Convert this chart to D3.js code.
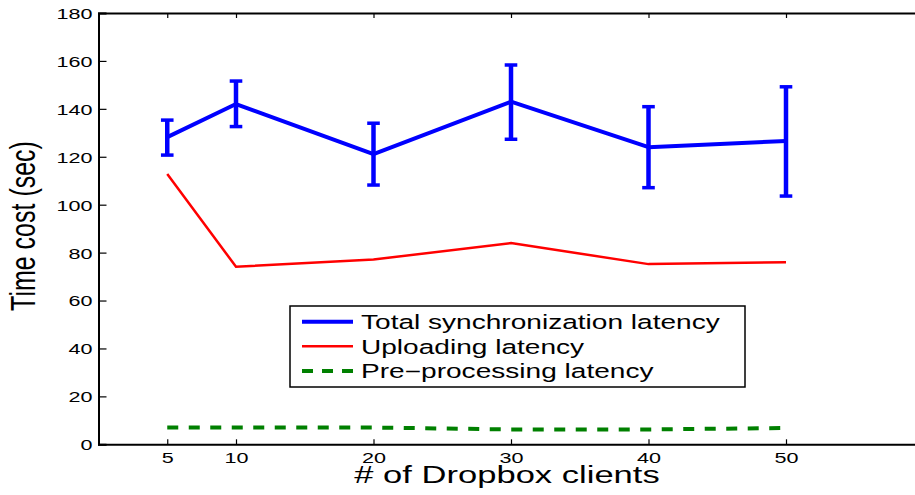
<!DOCTYPE html>
<html>
<head>
<meta charset="utf-8">
<script src="https://cdn.jsdelivr.net/npm/d3@7"></script>
<style>
  html, body { margin: 0; padding: 0; background: #fff; }
  svg { display: block; }
  text { font-family: "Liberation Sans", Arial, Helvetica, sans-serif; fill: #000; }
</style>
</head>
<body>
<svg id="chart" width="915" height="495"></svg>
<script>
// ---- data ----
const clients = [5, 10, 20, 30, 40, 50];
const totalLatency = [128.2, 142.0, 121.1, 143.0, 124.0, 126.6];
const totalErrLow  = [120.7, 132.6, 108.2, 127.3, 107.1, 103.6];
const totalErrHigh = [135.3, 151.6, 134.0, 158.3, 140.9, 149.2];
const uploadLatency = [112.8, 74.1, 77.1, 84.0, 75.2, 76.0];
const preprocLatency = [7.0, 7.0, 7.0, 6.2, 6.2, 6.8];
const xTicks = [5, 10, 20, 30, 40, 50];
const yTicks = [0, 20, 40, 60, 80, 100, 120, 140, 160, 180];
const legendLabels = ["Total synchronization latency", "Uploading latency", "Pre\u2212processing latency"];

// ---- layout ----
const SX = 1.44; // horizontal stretch of the original figure text
const svg = d3.select("#chart");
const mLeft = 98.5, mTop = 13, mBottom = 444.3, mRight = 923.5;

const x = d3.scaleLinear().domain([0, 60]).range([mLeft, mRight]);
const y = d3.scaleLinear().domain([0, 180]).range([mBottom, mTop]);

const g = svg.append("g");

// frame ticks on top and right (inward)
const topAxis = g.append("g").attr("transform", `translate(0,${mTop})`)
  .call(d3.axisTop(x).tickValues(xTicks).tickSize(-5).tickFormat(""));
const rightAxis = g.append("g").attr("transform", `translate(${mRight},0)`)
  .call(d3.axisRight(y).tickValues(yTicks).tickSize(-8).tickFormat(""));

// bottom axis
const xAxis = g.append("g").attr("transform", `translate(0,${mBottom})`)
  .call(d3.axisBottom(x).tickValues(xTicks).tickSize(-5).tickPadding(0).tickFormat(d3.format("d")));
// left axis
const yAxis = g.append("g").attr("transform", `translate(${mLeft},0)`)
  .call(d3.axisLeft(y).tickValues(yTicks).tickSize(-8).tickPadding(0).tickFormat(d3.format("d")));

[topAxis, rightAxis, xAxis, yAxis].forEach(a => {
  a.select(".domain").attr("stroke", "#000").attr("stroke-width", 2);
  a.selectAll(".tick line").attr("stroke", "#000").attr("stroke-width", 1.2);
  a.attr("font-family", null).attr("font-size", null);
});
xAxis.selectAll(".tick text")
  .attr("y", 18.5).attr("dy", null)
  .attr("font-size", "15px")
  .attr("transform", `scale(${SX},1)`);
yAxis.selectAll(".tick text")
  .attr("x", -6 / SX).attr("dy", "0.36em")
  .attr("font-size", "15px")
  .attr("transform", `scale(${SX},1)`);

// ---- series ----
const line = d3.line().x((d, i) => x(clients[i])).y(d => y(d));

// pre-processing (green dashed)
g.append("path").datum(preprocLatency)
  .attr("d", line).attr("fill", "none")
  .attr("stroke", "#008000").attr("stroke-width", 4)
  .attr("stroke-dasharray", "11,10.5");

// uploading (red)
g.append("path").datum(uploadLatency)
  .attr("d", line).attr("fill", "none")
  .attr("stroke", "#ff0000").attr("stroke-width", 2.5)
  .attr("stroke-linejoin", "miter");

// total (blue) with error bars
const eb = g.append("g").attr("stroke", "#0000ff").attr("fill", "none");
clients.forEach((c, i) => {
  const cx = x(c);
  eb.append("line").attr("x1", cx).attr("x2", cx)
    .attr("y1", y(totalErrLow[i])).attr("y2", y(totalErrHigh[i])).attr("stroke-width", 4.5);
  [totalErrLow[i], totalErrHigh[i]].forEach(v => {
    eb.append("line").attr("x1", cx - 6.3).attr("x2", cx + 6.3)
      .attr("y1", y(v)).attr("y2", y(v)).attr("stroke-width", 3.5);
  });
});
g.append("path").datum(totalLatency)
  .attr("d", line).attr("fill", "none")
  .attr("stroke", "#0000ff").attr("stroke-width", 4)
  .attr("stroke-linejoin", "round");

// ---- legend ----
const lg = svg.append("g");
lg.append("rect").attr("x", 290).attr("y", 306).attr("width", 455).attr("height", 81)
  .attr("fill", "#fff").attr("stroke", "#000").attr("stroke-width", 1.5);
const legendStyles = [
  { color: "#0000ff", width: 4, dash: null },
  { color: "#ff0000", width: 2.5, dash: null },
  { color: "#008000", width: 4, dash: "11,9" }
];
legendLabels.forEach((lab, i) => {
  const ly = 321.7 + i * 24.6;
  const l = lg.append("line").attr("x1", 302).attr("x2", 353)
    .attr("y1", ly).attr("y2", ly)
    .attr("stroke", legendStyles[i].color).attr("stroke-width", legendStyles[i].width);
  if (legendStyles[i].dash) l.attr("stroke-dasharray", legendStyles[i].dash);
  lg.append("text")
    .attr("transform", `translate(361,${ly + 7.3}) scale(${SX},1)`)
    .attr("font-size", "19.5px")
    .text(lab);
});

// ---- axis titles ----
svg.append("text")
  .attr("transform", `translate(${(mLeft + mRight) / 2 - 4},482.5) scale(${SX},1)`)
  .attr("text-anchor", "middle")
  .attr("font-size", "24px")
  .text("# of Dropbox clients");

svg.append("text")
  .attr("transform", `translate(35,226) scale(${SX},1) rotate(-90)`)
  .attr("text-anchor", "middle")
  .attr("font-size", "25px")
  .text("Time cost (sec)");
</script>
</body>
</html>
